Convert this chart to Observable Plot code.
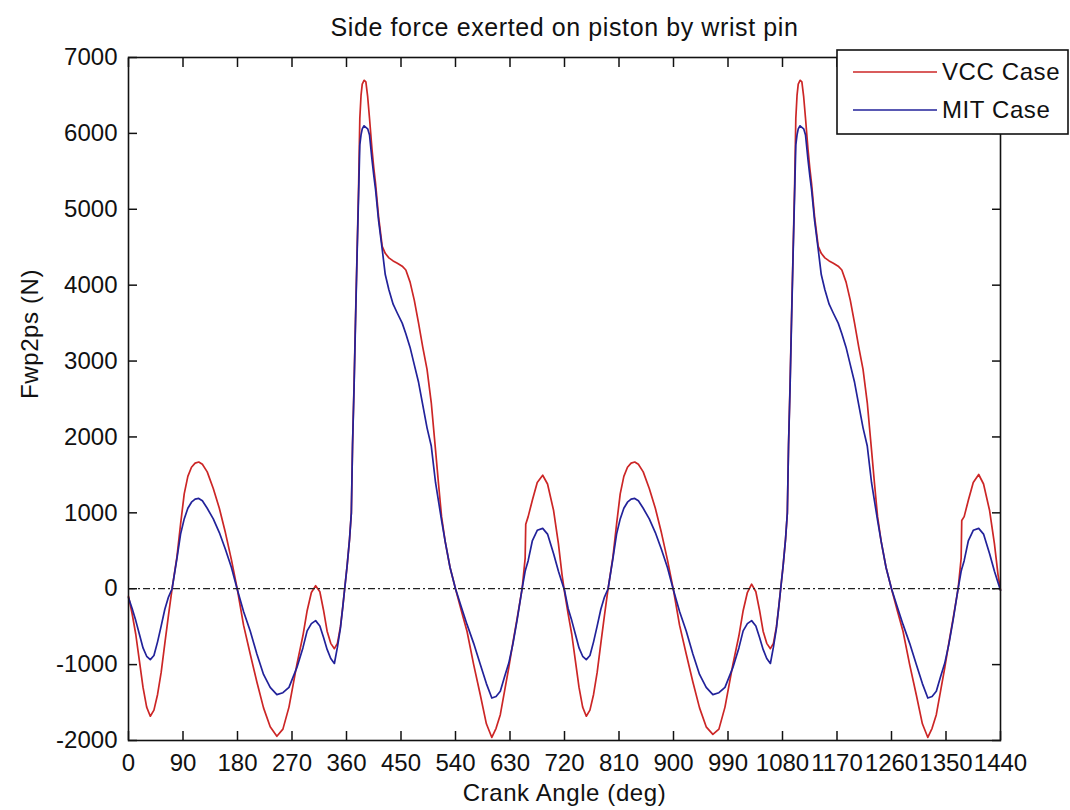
<!DOCTYPE html>
<html><head><meta charset="utf-8">
<script src="https://cdn.jsdelivr.net/npm/d3@7"></script>
<script src="https://cdn.jsdelivr.net/npm/@observablehq/plot@0.6"></script>
<style>html,body{margin:0;padding:0;background:#fff;} #chart{width:1070px;height:810px;}</style>
</head><body><div id="chart"></div>
<script>
// Crank angle (deg)
const angle = [
  0, 6, 12, 18, 24, 30, 36, 42, 48, 54,
  60, 66, 72, 80, 86, 92, 98, 104, 110, 116,
  122, 130, 140, 150, 160, 170, 180, 190, 201, 212,
  223, 234, 245, 255, 265, 278, 288, 295, 302, 309,
  316, 322, 328, 334, 340, 345, 350, 354, 357, 361,
  365, 368, 370, 372.5, 375, 377.5, 380, 382, 384, 386,
  389, 392, 395, 398, 402, 405, 408, 413, 419, 424,
  430, 437, 444, 452, 458, 465, 472, 479, 486, 493,
  500, 507, 512, 517, 523, 531, 540, 550, 559, 570,
  581, 591, 600, 607, 614, 621, 628, 635, 642, 650,
  655, 656, 660, 667, 675, 684, 692, 702, 710, 716,
  720, 726, 732, 738, 744, 750, 756, 762, 768, 774,
  780, 786, 792, 800, 806, 812, 818, 824, 830, 836,
  842, 850, 860, 870, 880, 890, 900, 910, 921, 932,
  943, 954, 965, 975, 985, 998, 1008, 1015, 1022, 1029,
  1036, 1042, 1048, 1054, 1060, 1065, 1070, 1074, 1077, 1081,
  1085, 1088, 1090, 1092.5, 1095, 1097.5, 1100, 1102, 1104, 1106,
  1109, 1112, 1115, 1118, 1122, 1125, 1128, 1133, 1139, 1144,
  1150, 1157, 1164, 1172, 1178, 1185, 1192, 1199, 1206, 1213,
  1220, 1227, 1232, 1237, 1243, 1251, 1260, 1270, 1279, 1290,
  1301, 1311, 1320, 1327, 1334, 1341, 1348, 1355, 1362, 1370,
  1375, 1376, 1380, 1387, 1395, 1404, 1412, 1422, 1430, 1436,
  1440
];
// VCC Case side force (N)
const vcc = [
  -100, -330, -600, -950, -1300, -1560, -1680, -1600, -1393, -1100,
  -720, -350, 0, 420, 850, 1250, 1480, 1600, 1655, 1670,
  1640, 1540, 1320, 1060, 740, 380, -20, -480, -860, -1230,
  -1570, -1820, -1945, -1850, -1560, -1000, -620, -290, -50, 40,
  -40, -280, -560, -720, -790, -720, -500, -230, 0, 300,
  650, 1000, 1900, 2700, 3600, 4450, 5300, 6200, 6500, 6650,
  6700, 6680, 6480, 6200, 5800, 5550, 5340, 4900, 4510, 4420,
  4360, 4320, 4290, 4250, 4200, 4040, 3800, 3500, 3180, 2890,
  2450, 1830, 1380, 950, 620, 280, 0, -300, -560, -1000,
  -1400, -1780, -1960, -1840, -1660, -1350, -1040, -700, -380, 0,
  400, 850, 950, 1170, 1400, 1495, 1380, 1030, 590, 180,
  -40, -330, -600, -950, -1300, -1560, -1680, -1600, -1393, -1100,
  -720, -350, 0, 420, 850, 1250, 1480, 1600, 1655, 1670,
  1640, 1540, 1320, 1060, 740, 380, -20, -480, -860, -1230,
  -1570, -1820, -1920, -1850, -1560, -1000, -620, -290, -50, 60,
  -40, -280, -560, -720, -790, -720, -500, -230, 0, 300,
  650, 1000, 1900, 2700, 3600, 4450, 5300, 6200, 6500, 6650,
  6700, 6680, 6480, 6200, 5800, 5550, 5340, 4900, 4510, 4420,
  4360, 4320, 4290, 4250, 4200, 4040, 3800, 3500, 3180, 2890,
  2450, 1830, 1380, 950, 620, 280, 0, -300, -560, -1000,
  -1400, -1780, -1960, -1840, -1660, -1350, -1040, -700, -380, 0,
  400, 900, 950, 1170, 1400, 1505, 1380, 1030, 590, 180,
  -20
];
// MIT Case side force (N)
const mit = [
  -120, -260, -420, -600, -780, -890, -935, -880, -700, -490,
  -270, -110, 0, 400, 720, 920, 1060, 1140, 1180, 1190,
  1160, 1060, 920, 740, 520, 280, -20, -300, -556, -860,
  -1129, -1300, -1395, -1370, -1300, -1040, -780, -556, -460, -420,
  -490, -640, -800, -920, -985, -770, -520, -230, 0, 300,
  650, 1000, 1900, 2650, 3550, 4400, 5200, 5850, 5980, 6060,
  6100, 6080, 6060, 5980, 5660, 5450, 5260, 4850, 4470, 4140,
  3940, 3750, 3630, 3500, 3360, 3180, 2950, 2720, 2420, 2120,
  1880, 1400, 1150, 900, 620, 280, 0, -250, -470, -720,
  -1000, -1250, -1440, -1420, -1350, -1160, -980, -720, -400, 0,
  230, 260, 370, 635, 770, 795, 720, 460, 230, 80,
  -20, -260, -420, -600, -780, -890, -935, -880, -700, -490,
  -270, -110, 0, 400, 720, 920, 1060, 1140, 1180, 1190,
  1160, 1060, 920, 740, 520, 280, -20, -300, -556, -860,
  -1129, -1300, -1395, -1370, -1300, -1040, -780, -556, -460, -420,
  -490, -640, -800, -920, -985, -770, -520, -230, 0, 300,
  650, 1000, 1900, 2650, 3550, 4400, 5200, 5850, 5980, 6060,
  6100, 6080, 6060, 5980, 5660, 5450, 5260, 4850, 4470, 4140,
  3940, 3750, 3630, 3500, 3360, 3180, 2950, 2720, 2420, 2120,
  1880, 1400, 1150, 900, 620, 280, 0, -250, -470, -720,
  -1000, -1250, -1440, -1420, -1350, -1160, -980, -720, -400, 0,
  230, 260, 370, 635, 770, 795, 720, 460, 230, 80,
  -20
];
const xTicks = [0, 90, 180, 270, 360, 450, 540, 630, 720, 810, 900, 990, 1080, 1170, 1260, 1350, 1440];
const yTicks = [-2000, -1000, 0, 1000, 2000, 3000, 4000, 5000, 6000, 7000];
const titleText = "Side force exerted on piston by wrist pin";
const xLabel = "Crank Angle (deg)";
const yLabel = "Fwp2ps (N)";
const seriesNames = ["VCC Case", "MIT Case"];
const seriesColors = ["#cc2626", "#22229a"];

const rows = angle.map((a, i) => ({angle: a, vcc: vcc[i], mit: mit[i]}));
const font = "'Liberation Sans', Arial, sans-serif";
const blank = () => "";

const chart = Plot.plot({
  width: 1070, height: 810,
  marginLeft: 128, marginRight: 70, marginTop: 57, marginBottom: 70,
  style: {fontFamily: font, fontSize: "24px", color: "#111", background: "#fff", overflow: "visible"},
  x: {domain: [0, 1440]},
  y: {domain: [-2000, 7000]},
  marks: [
    Plot.line(rows, {x: "angle", y: "vcc", stroke: seriesColors[0], strokeWidth: 1.7}),
    Plot.line(rows, {x: "angle", y: "mit", stroke: seriesColors[1], strokeWidth: 1.7}),
    Plot.ruleY([0], {stroke: "#222", strokeWidth: 1.3, strokeDasharray: "7,3,2,3"}),
    Plot.axisX(xTicks, {anchor: "bottom", tickSize: 0, tickPadding: 13, tickFormat: d => String(d), label: null}),
    Plot.axisX(xTicks, {anchor: "bottom", tickSize: -9, tickFormat: blank, label: null, strokeWidth: 1.5}),
    Plot.axisX(xTicks, {anchor: "top", tickSize: -9, tickFormat: blank, label: null, strokeWidth: 1.5}),
    Plot.axisY(yTicks, {anchor: "left", tickSize: 0, tickPadding: 11, tickFormat: d => String(d), label: null}),
    Plot.axisY(yTicks, {anchor: "left", tickSize: -9, tickFormat: blank, label: null, strokeWidth: 1.5}),
    Plot.axisY(yTicks, {anchor: "right", tickSize: -9, tickFormat: blank, label: null, strokeWidth: 1.5}),
    Plot.frame({stroke: "#111", strokeWidth: 1.6}),
    Plot.text([titleText], {frameAnchor: "top", lineAnchor: "middle", dy: -30, fill: "#111", fontSize: 25, style: "letter-spacing:0.5px"}),
    Plot.text([xLabel], {frameAnchor: "bottom", lineAnchor: "middle", dy: 53, fill: "#111", fontSize: 24}),
    Plot.text([yLabel], {frameAnchor: "left", lineAnchor: "middle", dx: -98, rotate: -90, fill: "#111", fontSize: 24})
  ]
});
document.getElementById("chart").appendChild(chart);

// letter spacing for title / axis labels (MATLAB-like wider glyph advance)
d3.select(chart).selectAll("g[aria-label='text'] text").attr("letter-spacing", "0.6px");

// Legend box (MATLAB style, upper right, overlapping the axes edge)
const svg = d3.select(chart);
const lg = svg.append("g").attr("font-family", font).attr("font-size", 24).attr("text-anchor", "start");
lg.append("rect").attr("x", 837).attr("y", 50).attr("width", 231).attr("height", 84)
  .attr("fill", "#fff").attr("stroke", "#111").attr("stroke-width", 1.6);
seriesNames.forEach((name, i) => {
  const y = 72 + i * 38;
  lg.append("line").attr("x1", 853).attr("x2", 937).attr("y1", y).attr("y2", y)
    .attr("stroke", seriesColors[i]).attr("stroke-width", 1.7);
  lg.append("text").attr("x", 942).attr("y", y).attr("dy", "0.35em").attr("fill", "#111")
    .attr("letter-spacing", "0.6px").text(name);
});
</script>
</body></html>
